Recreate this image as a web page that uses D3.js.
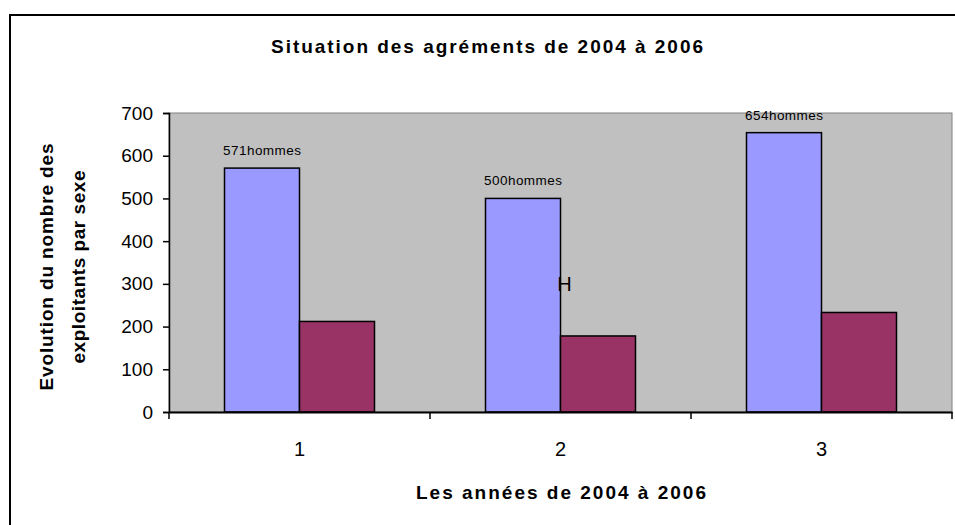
<!DOCTYPE html>
<html>
<head>
<meta charset="utf-8">
<script src="https://cdn.jsdelivr.net/npm/d3@7"></script>
<style>
  body { margin: 0; background: #fff; }
  svg { display: block; font-family: "Liberation Sans", Arial, sans-serif; }
</style>
</head>
<body>
<div id="chart"></div>
<script>
// data
const years = ["1", "2", "3"];
const series = ["hommes", "femmes"];
const hommes = [571, 500, 654];
const femmes = [212, 178, 233];
const yTicks = [0, 100, 200, 300, 400, 500, 600, 700];
const colors = ["#9999FF", "#993366"];

const width = 955;
const height = 525;
const plot = { left: 169, top: 113, right: 952, bottom: 412 };

const svg = d3.select("#chart")
  .append("svg")
  .attr("width", width)
  .attr("height", height);

// outer chart frame (runs off the right / bottom edge)
svg.append("rect")
  .attr("x", 10).attr("y", 15)
  .attr("width", 960).attr("height", 530)
  .attr("fill", "#fff")
  .attr("stroke", "#000")
  .attr("stroke-width", 2);

const x0 = d3.scaleBand()
  .domain(years)
  .range([plot.left, plot.right])
  .padding(0);

const x1 = d3.scaleBand()
  .domain(series)
  .range([0, x0.bandwidth()])
  .paddingInner(0)
  .paddingOuter(0.74);

const y = d3.scaleLinear()
  .domain([0, 700])
  .range([plot.bottom, plot.top]);

// plot area
svg.append("rect")
  .attr("x", plot.left).attr("y", plot.top)
  .attr("width", plot.right - plot.left)
  .attr("height", plot.bottom - plot.top)
  .attr("fill", "#C0C0C0")
  .attr("stroke", "#808080")
  .attr("stroke-width", 1);

const rows = years.map((yr, i) => ({ year: yr, hommes: hommes[i], femmes: femmes[i] }));

// bars
const groups = svg.append("g")
  .selectAll("g")
  .data(rows)
  .join("g")
  .attr("transform", (d) => `translate(${x0(d.year)},0)`);

groups.selectAll("rect")
  .data((d) => series.map((s, j) => ({ key: s, value: d[s], color: colors[j] })))
  .join("rect")
  .attr("x", (d) => x1(d.key))
  .attr("y", (d) => y(d.value))
  .attr("width", x1.bandwidth())
  .attr("height", (d) => y(0) - y(d.value))
  .attr("fill", (d) => d.color)
  .attr("stroke", "#000")
  .attr("stroke-width", 1.5);

// data labels above the "hommes" bars
groups.append("text")
  .attr("x", x1("hommes") + x1.bandwidth() / 2)
  .attr("y", (d) => y(d.hommes) - 13)
  .attr("text-anchor", "middle")
  .attr("font-size", 13.5)
  .attr("textLength", 78)
  .attr("lengthAdjust", "spacing")
  .text((d) => d.hommes + "hommes");

// stray "H" label from the original
svg.append("text")
  .attr("x", x0("2") + x1("femmes") + 4)
  .attr("y", y(300) + 7)
  .attr("text-anchor", "middle")
  .attr("font-size", 20)
  .text("H");

// y axis
const yAxis = d3.axisLeft(y).tickValues(yTicks).tickSize(6).tickPadding(10);
const gy = svg.append("g")
  .attr("transform", `translate(${plot.left},0)`)
  .call(yAxis);
gy.selectAll("text")
  .attr("font-size", 19)
  .attr("fill", "#000")
  .attr("font-family", "Liberation Sans, Arial, sans-serif");
gy.selectAll("line").attr("stroke", "#000").attr("stroke-width", 1.5);
gy.select(".domain").attr("stroke", "#000").attr("stroke-width", 1.5);

// x axis: ticks between categories, labels centred
const xAxis = d3.axisBottom(x0).tickSize(0).tickPadding(30);
const gx = svg.append("g")
  .attr("transform", `translate(0,${plot.bottom})`)
  .call(xAxis);
gx.selectAll("text")
  .attr("font-size", 20)
  .attr("fill", "#000")
  .attr("font-family", "Liberation Sans, Arial, sans-serif");
gx.select(".domain").attr("stroke", "#000").attr("stroke-width", 2);
const boundaries = years.map((d) => x0(d)).concat([x0(years[years.length - 1]) + x0.bandwidth()]);
gx.selectAll(".sep")
  .data(boundaries)
  .join("line")
  .attr("class", "sep")
  .attr("x1", (d) => d).attr("x2", (d) => d)
  .attr("y1", 0).attr("y2", 7)
  .attr("stroke", "#000")
  .attr("stroke-width", 1.5);

// titles
svg.append("text")
  .attr("x", 487).attr("y", 53)
  .attr("text-anchor", "middle")
  .attr("font-size", 19)
  .attr("font-weight", "bold")
  .attr("textLength", 432)
  .attr("lengthAdjust", "spacing")
  .text("Situation des agréments de 2004 à 2006");

svg.append("text")
  .attr("x", 561).attr("y", 499)
  .attr("text-anchor", "middle")
  .attr("font-size", 19)
  .attr("font-weight", "bold")
  .attr("textLength", 290)
  .attr("lengthAdjust", "spacing")
  .text("Les années de 2004 à 2006");

const yTitle = svg.append("text")
  .attr("transform", "translate(0,267) rotate(-90)")
  .attr("text-anchor", "middle")
  .attr("font-size", 19)
  .attr("font-weight", "bold");
yTitle.append("tspan").attr("x", 0).attr("y", 53)
  .attr("textLength", 247).attr("lengthAdjust", "spacing")
  .text("Evolution du nombre des");
yTitle.append("tspan").attr("x", 0).attr("y", 85)
  .attr("textLength", 193).attr("lengthAdjust", "spacing")
  .text("exploitants par sexe");
</script>
</body>
</html>
